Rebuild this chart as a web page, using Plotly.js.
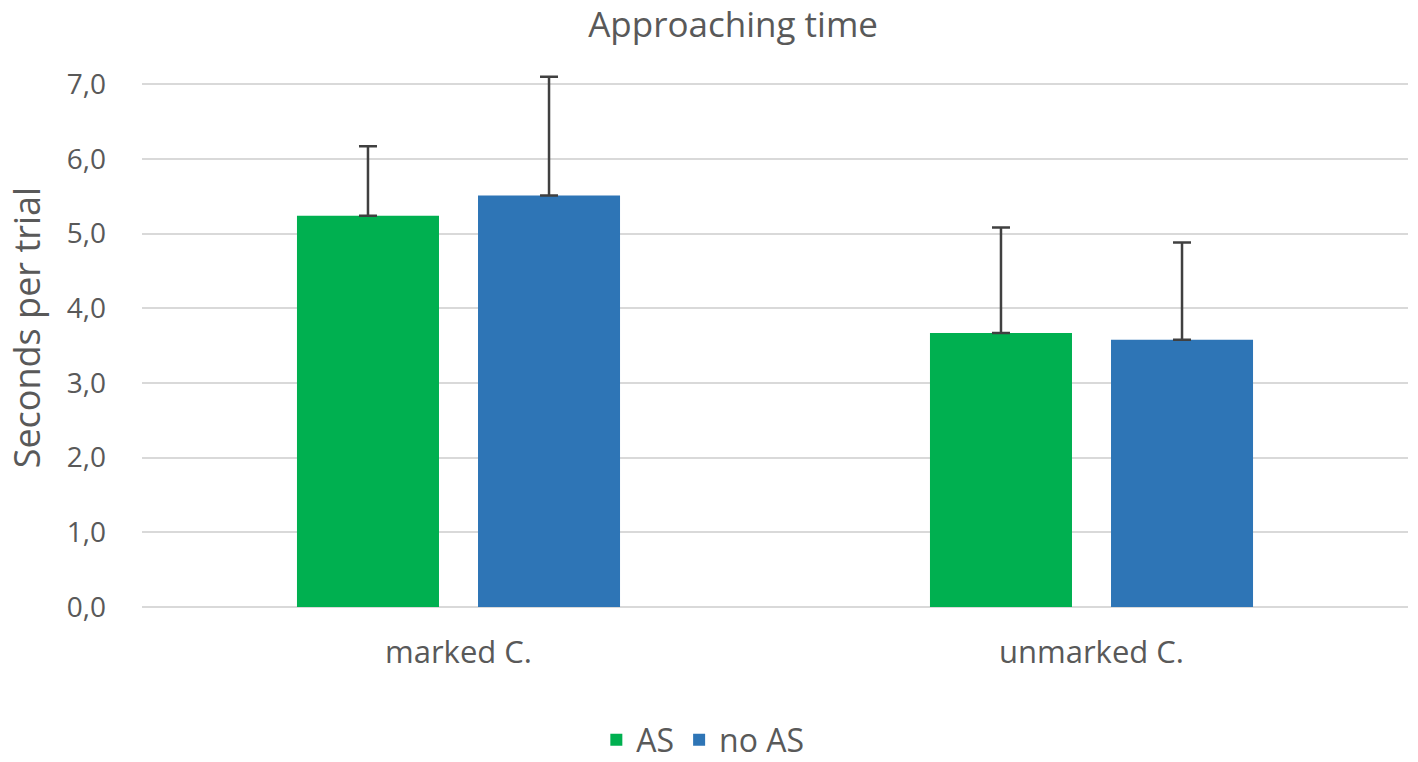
<!DOCTYPE html>
<html>
<head>
<meta charset="utf-8">
<script src="https://cdn.plot.ly/plotly-3.0.1.min.js"></script>
<style>
  html, body { margin: 0; padding: 0; background: #fff; }
  #chart { width: 1418px; height: 762px; }
</style>
</head>
<body>
<div id="chart"></div>
<script>
    'use strict';

    // Chart data
    const categories = ['marked C.', 'unmarked C.'];
    const seriesNames = ['AS', 'no AS'];
    const asValues = [5.24, 3.67];
    const asErrors = [0.93, 1.41];
    const noAsValues = [5.51, 3.58];
    const noAsErrors = [1.59, 1.30];
    const yTicks = [0, 1, 2, 3, 4, 5, 6, 7];

    const fontFamily = '"Open Sans", "Noto Sans", sans-serif';
    const textColor = '#595959';

    // Only the upper half of the error bar is drawn
    function errorStyle(values) {
        return {
            type: 'data',
            array: values,
            symmetric: false,
            arrayminus: values.map(() => 0),
            color: '#404040',
            thickness: 2.5,
            width: 9
        };
    }

    const data = [
        {
            type: 'bar',
            name: seriesNames[0],
            x: categories,
            y: asValues,
            error_y: errorStyle(asErrors),
            marker: { color: '#00B050' },
            hoverinfo: 'y'
        },
        {
            type: 'bar',
            name: seriesNames[1],
            x: categories,
            y: noAsValues,
            error_y: errorStyle(noAsErrors),
            marker: { color: '#2E75B6' },
            hoverinfo: 'y'
        }
    ];

    const layout = {
        width: 1418,
        height: 762,
        margin: { l: 142, r: 10, t: 73, b: 155 },
        paper_bgcolor: '#fff',
        plot_bgcolor: '#fff',
        separators: ',.',
        font: { family: fontFamily, color: textColor, size: 28 },
        title: {
            text: 'Approaching time',
            font: { size: 35, color: textColor, family: fontFamily },
            x: 0.517,
            xanchor: 'center',
            y: 0.967,
            yanchor: 'middle'
        },
        barmode: 'group',
        bargap: 0.428,
        bargroupgap: 0.2155,
        xaxis: {
            type: 'category',
            showgrid: false,
            showline: false,
            ticks: '',
            automargin: false,
            tickfont: { size: 31, color: textColor },
            ticklabelstandoff: 24
        },
        yaxis: {
            range: [0, 7.15],
            tickvals: yTicks,
            tickformat: '.1f',
            showgrid: true,
            gridcolor: '#d9d9d9',
            gridwidth: 2,
            zeroline: true,
            zerolinecolor: '#d9d9d9',
            zerolinewidth: 2,
            showline: false,
            ticks: '',
            automargin: false,
            tickfont: { size: 28, color: textColor },
            ticklabelstandoff: 35
        },
        annotations: [
            {
                text: 'Seconds per trial',
                textangle: -90,
                xref: 'paper',
                yref: 'paper',
                x: -0.0915,
                y: 0.524,
                xanchor: 'center',
                yanchor: 'middle',
                showarrow: false,
                borderpad: 0,
                font: { size: 36, color: textColor, family: fontFamily }
            }
        ],
        showlegend: true,
        legend: {
            orientation: 'h',
            xref: 'paper',
            x: 0.443,
            xanchor: 'center',
            yref: 'container',
            y: 0.029,
            yanchor: 'middle',
            font: { size: 32, color: textColor },
            itemwidth: 30,
            traceorder: 'normal'
        }
    };

    Plotly.newPlot('chart', data, layout, { displayModeBar: false, responsive: false });
</script>
</body>
</html>
